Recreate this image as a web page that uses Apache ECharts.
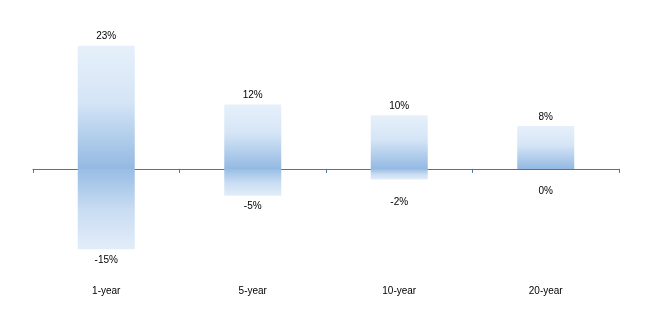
<!DOCTYPE html>
<html>
<head>
<meta charset="utf-8">
<script src="https://cdn.jsdelivr.net/npm/echarts@6/dist/echarts.min.js"></script>
<style>html,body{margin:0;padding:0;background:#fff}#c{width:654px;height:314px}</style>
</head>
<body>
<div id="c"></div>
<script>
var categories = ['1-year', '5-year', '10-year', '20-year'];
var highValues = [23, 12, 10, 8];
var lowValues = [-15, -5, -2, 0];

var chart = echarts.init(document.getElementById('c'), null, {renderer: 'canvas'});
var font = {fontFamily: 'Liberation Sans', fontSize: 10, color: '#000'};
var extraLowOffset = {2: 12, 3: 11};

var lowData = lowValues.map(function (v, i) {
  var item = {value: v};
  if (extraLowOffset[i]) item.label = {offset: [0, extraLowOffset[i]]};
  return item;
});

chart.setOption({
  animation: false,
  grid: {left: 33, right: 35, top: 35, bottom: 38},
  xAxis: [{
    type: 'category', data: categories, gridIndex: 0, position: 'bottom',
    axisLine: {show: true, onZero: true, lineStyle: {color: '#4676ad', width: 1}},
    axisTick: {show: true, length: 4, lineStyle: {color: '#4676ad'}},
    axisLabel: {show: false}, splitLine: {show: false}
  }, {
    type: 'category', data: categories, gridIndex: 0, position: 'bottom',
    axisLine: {show: false, onZero: false}, axisTick: {show: false},
    axisLabel: Object.assign({show: true, margin: 10}, font), splitLine: {show: false}
  }],
  yAxis: {
    type: 'value', min: -20, max: 25, show: false, splitLine: {show: false}
  },
  series: [{
    type: 'bar', data: highValues, xAxisIndex: 0, barWidth: 57, barGap: '-100%',
    itemStyle: {color: {type: 'linear', x: 0, y: 0, x2: 0, y2: 1, colorStops: [
      {offset: 0, color: '#e6f0fb'}, {offset: 0.45, color: '#d5e5f6'}, {offset: 1, color: '#93b9e2'}]}},
    label: Object.assign({show: true, position: 'top', distance: 4, formatter: '{c}%'}, font)
  }, {
    type: 'bar', data: lowData, xAxisIndex: 0, barWidth: 57, barGap: '-100%',
    itemStyle: {color: {type: 'linear', x: 0, y: 0, x2: 0, y2: 1, colorStops: [
      {offset: 0, color: '#98bde4'}, {offset: 0.5, color: '#c8dcf2'}, {offset: 1, color: '#e2edf9'}]}},
    label: Object.assign({show: true, position: 'bottom', distance: 6, formatter: '{c}%'}, font)
  }]
});
</script>
</body>
</html>
